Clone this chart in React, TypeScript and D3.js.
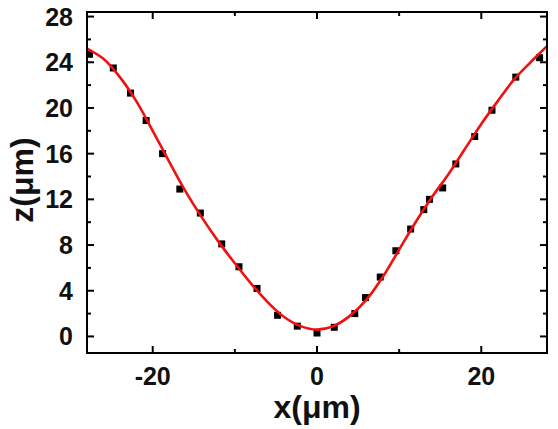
import React from 'react';
import * as d3 from 'd3';

// measured profile points (x in µm, z in µm)
const xData = [-27.7, -24.8, -22.7, -20.8, -18.8, -16.7, -14.2, -11.6, -9.5, -7.3, -4.8, -2.4, 0, 2.1, 4.6, 5.9, 7.7, 9.6, 11.4, 13.0, 13.7, 15.3, 16.9, 19.2, 21.3, 24.2, 27.1];
const zData = [24.7, 23.5, 21.3, 18.9, 16.0, 12.9, 10.8, 8.1, 6.1, 4.2, 1.85, 0.9, 0.3, 0.8, 2.0, 3.4, 5.2, 7.5, 9.4, 11.1, 12.0, 13.0, 15.1, 17.5, 19.8, 22.7, 24.4];

// fitted profile
const xFit = [-28, -26, -24, -22, -20, -18, -16, -14, -12, -10, -8, -6, -4, -2, 0, 2, 4, 6, 8, 10, 12, 14, 16, 18, 20, 22, 24, 26, 28];
const zFit = [25.2, 24.3, 22.7, 20.6, 18.0, 15.3, 12.7, 10.4, 8.3, 6.4, 4.6, 3.0, 1.7, 0.9, 0.6, 0.9, 1.8, 3.2, 5.2, 7.6, 10.0, 12.2, 14.2, 16.4, 18.6, 20.6, 22.5, 24.0, 25.4];

const xMajor = [-20, 0, 20];
const xMinor = [-10, 10];
const yMajor = [0, 4, 8, 12, 16, 20, 24, 28];
const yMinor = [2, 6, 10, 14, 18, 22, 26];

const W = 558;
const H = 429;
const margin = { left: 87, right: 11, top: 12, bottom: 76 };
const font = '"Liberation Sans", Arial, sans-serif';

const App = () => {
  const x = d3.scaleLinear().domain([-28, 28]).range([margin.left, W - margin.right]);
  const y = d3.scaleLinear().domain([-1.45, 28.4]).range([H - margin.bottom, margin.top]);
  const [x0, x1] = x.range();
  const [y0, y1] = y.range();

  const line = d3
    .line<number>()
    .x((_, i) => x(xFit[i]))
    .y((d) => y(d))
    .curve(d3.curveCatmullRom.alpha(0.5));

  const major = 7;
  const minor = 4;

  return (
    <svg width={W} height={H} style={{ position: 'absolute', left: 0, top: 0 }}>
      <rect width={W} height={H} fill="#fff" />
      <defs>
        <clipPath id="plot">
          <rect x={x0} y={y1} width={x1 - x0} height={y0 - y1} />
        </clipPath>
      </defs>

      {/* data */}
      <g clipPath="url(#plot)">
        {zData.map((d, i) => (
          <rect key={i} x={x(xData[i]) - 3.5} y={y(d) - 3.5} width={7} height={7} fill="#000" />
        ))}
        <path d={line(zFit) || ''} fill="none" stroke="#f01010" strokeWidth={2.6} />
      </g>

      {/* frame and ticks */}
      <g stroke="#000" strokeWidth={2}>
        <rect x={x0} y={y1} width={x1 - x0} height={y0 - y1} fill="none" />
        {xMajor.map((t) => (
          <g key={'xM' + t}>
            <line x1={x(t)} x2={x(t)} y1={y0} y2={y0 - major} />
            <line x1={x(t)} x2={x(t)} y1={y1} y2={y1 + major} />
          </g>
        ))}
        {xMinor.map((t) => (
          <g key={'xm' + t}>
            <line x1={x(t)} x2={x(t)} y1={y0} y2={y0 - minor} />
            <line x1={x(t)} x2={x(t)} y1={y1} y2={y1 + minor} />
          </g>
        ))}
        {yMajor.map((t) => (
          <g key={'yM' + t}>
            <line x1={x0} x2={x0 + major} y1={y(t)} y2={y(t)} />
            <line x1={x1} x2={x1 - major} y1={y(t)} y2={y(t)} />
          </g>
        ))}
        {yMinor.map((t) => (
          <g key={'ym' + t}>
            <line x1={x0} x2={x0 + minor} y1={y(t)} y2={y(t)} />
            <line x1={x1} x2={x1 - minor} y1={y(t)} y2={y(t)} />
          </g>
        ))}
      </g>

      {/* tick labels */}
      <g fontFamily={font} fontWeight="bold" fontSize={25} fill="#111">
        {xMajor.map((t) => (
          <text key={'xl' + t} x={x(t)} y={385} textAnchor="middle">
            {t}
          </text>
        ))}
        {yMajor.map((t) => (
          <text key={'yl' + t} x={73} y={y(t)} dy="0.36em" textAnchor="end">
            {t}
          </text>
        ))}
      </g>

      {/* axis titles */}
      <g fontFamily={font} fontWeight="bold" fontSize={32} fill="#111">
        <text x={x(0)} y={418} textAnchor="middle">
          x(μm)
        </text>
        <text transform={`translate(33, 180) rotate(-90)`} textAnchor="middle">
          z(μm)
        </text>
      </g>
    </svg>
  );
};

export default App;
